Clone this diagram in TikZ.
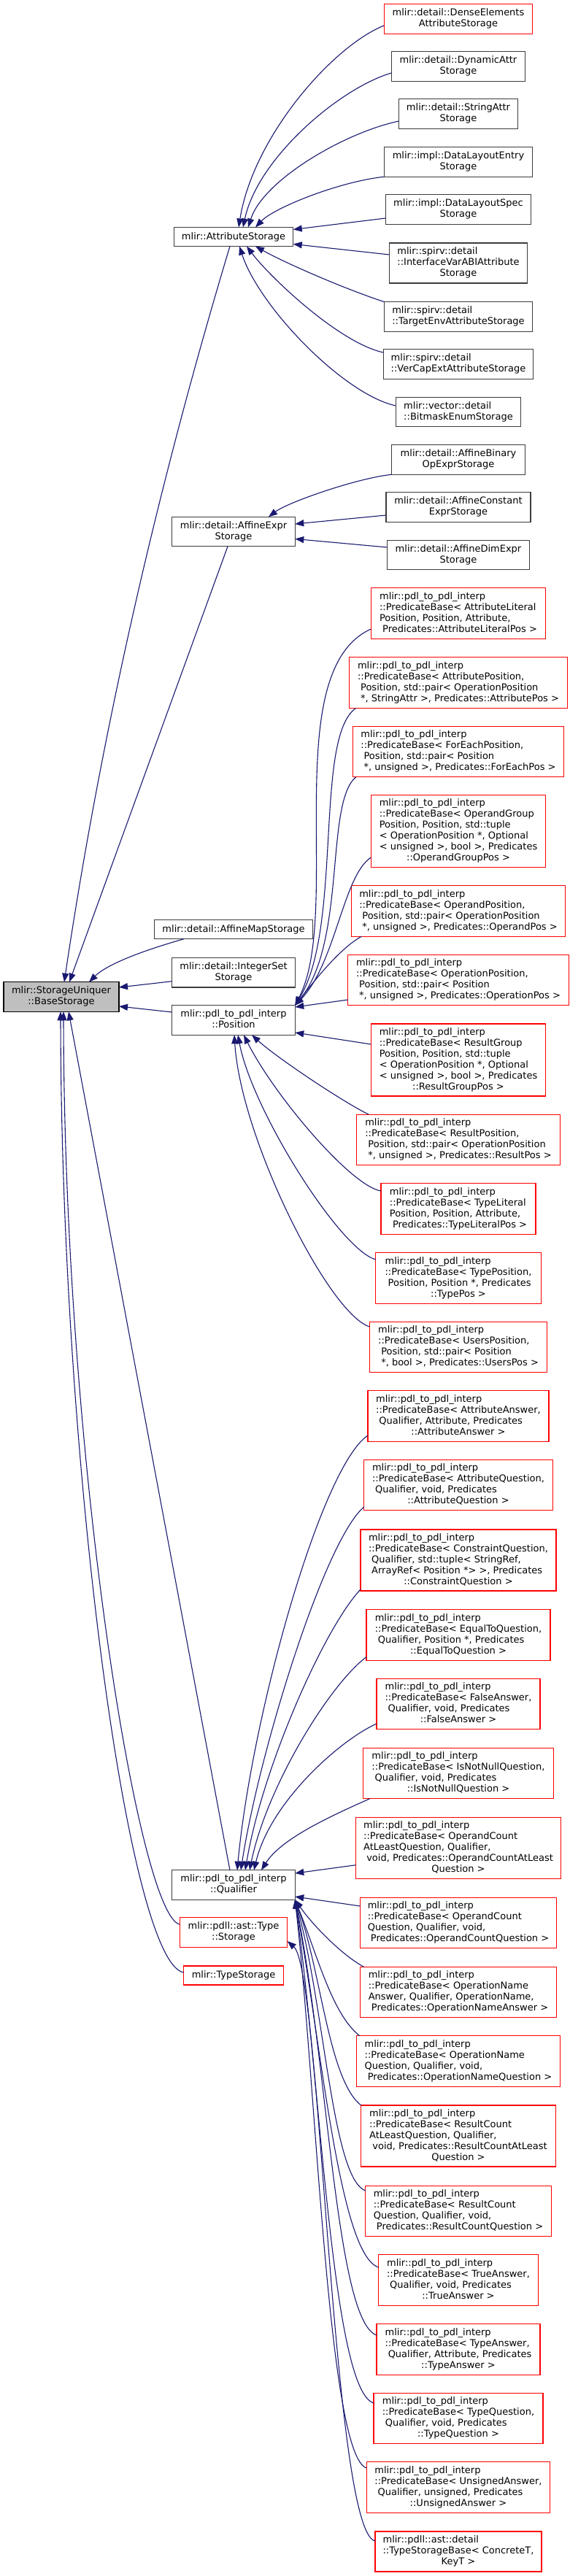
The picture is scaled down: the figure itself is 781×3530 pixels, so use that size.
\documentclass[tikz,border=0pt]{standalone}
\usepackage{fontspec}
\setmainfont{DejaVu Sans}
\usetikzlibrary{arrows.meta,calc}
\definecolor{edgeblue}{RGB}{25,25,112}
\definecolor{boxgrey}{RGB}{60,60,60}
\definecolor{boxred}{RGB}{255,0,0}
\definecolor{basegrey}{RGB}{191,191,191}
\newcommand\lbl[2]{\begin{tabular}{@{}l@{}}#1\\\multicolumn{1}{@{}c@{}}{#2}\end{tabular}}
\newcommand\ind{\hspace*{0.318em}}
\newcommand\pdlns{mlir::pdl\_to\_pdl\_interp}
\begin{document}
\begin{tikzpicture}[x=1pt,y=-1pt,
  box/.style={line width=1.1pt, fill=white, inner sep=0pt, outer sep=0pt, font=\fontsize{13}{15}\selectfont},
  bk/.style={box, draw=boxgrey},
  rd/.style={box, draw=boxred},
  gb/.style={box, draw=black, fill=basegrey},
  wd/.style={minimum width=#1pt},
  l1/.style={minimum height=26pt},
  l2/.style={minimum height=40.5pt},
  l3/.style={minimum height=55pt},
  l4/.style={minimum height=69.5pt},
  l5/.style={minimum height=84pt},
  l6/.style={minimum height=99pt},
  inh/.style={draw=edgeblue, line width=1.1pt, -{Triangle[length=12pt,width=9pt]}}]
\fill[white] (0,0) rectangle (781,3530);
\useasboundingbox (0,0) rectangle (781,3530);
% ---------- right column
\node[rd,wd=203.5,l2] (n1) at (628,26) {\lbl{mlir::detail::DenseElements}{AttributeStorage}};
\node[bk,wd=183.5,l2] (n2) at (628,91) {\lbl{mlir::detail::DynamicAttr}{Storage}};
\node[bk,wd=163,l2] (n3) at (628,156) {\lbl{mlir::detail::StringAttr}{Storage}};
\node[bk,wd=203.5,l2] (n4) at (628,222) {\lbl{mlir::impl::DataLayoutEntry}{Storage}};
\node[bk,wd=199.5,l2] (n5) at (628,287) {\lbl{mlir::impl::DataLayoutSpec}{Storage}};
\node[bk,wd=189,l3] (n6) at (628,360.5) {\lbl{mlir::spirv::detail\\::InterfaceVarABIAttribute}{Storage}};
\node[bk,wd=202.5,l2] (n7) at (628,434) {\lbl{mlir::spirv::detail}{::TargetEnvAttributeStorage}};
\node[bk,wd=205.5,l2] (n8) at (628,499) {\lbl{mlir::spirv::detail}{::VerCapExtAttributeStorage}};
\node[bk,wd=171.5,l2] (n9) at (628,564.5) {\lbl{mlir::vector::detail}{::BitmaskEnumStorage}};
\node[bk,wd=182.5,l2] (n10) at (628,630) {\lbl{mlir::detail::AffineBinary}{OpExprStorage}};
\node[bk,wd=198,l2] (n11) at (628,695) {\lbl{mlir::detail::AffineConstant}{ExprStorage}};
\node[bk,wd=195.5,l2] (n12) at (628,760.5) {\lbl{mlir::detail::AffineDimExpr}{Storage}};
\node[rd,wd=239.5,l4] (n13) at (628,840.5) {\lbl{\pdlns\\::PredicateBase< AttributeLiteral\\Position, Position, Attribute,}{\ind Predicates::AttributeLiteralPos >}};
\node[rd,wd=298.5,l4] (n14) at (628,935.5) {\lbl{\pdlns\\::PredicateBase< AttributePosition,\\\ind Position, std::pair< OperationPosition}{\ind *, StringAttr >, Predicates::AttributePos >}};
\node[rd,wd=289.5,l4] (n15) at (628,1030) {\lbl{\pdlns\\::PredicateBase< ForEachPosition,\\\ind Position, std::pair< Position}{\ind *, unsigned >, Predicates::ForEachPos >}};
\node[rd,wd=239.5,l6] (n16) at (628,1139) {\lbl{\pdlns\\::PredicateBase< OperandGroup\\Position, Position, std::tuple\\< OperationPosition *, Optional\\< unsigned >, bool >, Predicates}{::OperandGroupPos >}};
\node[rd,wd=293.5,l4] (n17) at (628,1248.5) {\lbl{\pdlns\\::PredicateBase< OperandPosition,\\\ind Position, std::pair< OperationPosition}{\ind *, unsigned >, Predicates::OperandPos >}};
\node[rd,wd=302.5,l4] (n18) at (628,1343) {\lbl{\pdlns\\::PredicateBase< OperationPosition,\\\ind Position, std::pair< Position}{\ind *, unsigned >, Predicates::OperationPos >}};
\node[rd,wd=239.5,l6] (n19) at (628,1452.5) {\lbl{\pdlns\\::PredicateBase< ResultGroup\\Position, Position, std::tuple\\< OperationPosition *, Optional\\< unsigned >, bool >, Predicates}{::ResultGroupPos >}};
\node[rd,wd=278.5,l4] (n20) at (628,1562) {\lbl{\pdlns\\::PredicateBase< ResultPosition,\\\ind Position, std::pair< OperationPosition}{\ind *, unsigned >, Predicates::ResultPos >}};
\node[rd,wd=212,l4] (n21) at (628,1656.5) {\lbl{\pdlns\\::PredicateBase< TypeLiteral\\Position, Position, Attribute,}{\ind Predicates::TypeLiteralPos >}};
\node[rd,wd=226.5,l4] (n22) at (628,1751.5) {\lbl{\pdlns\\::PredicateBase< TypePosition,\\\ind Position, Position *, Predicates}{::TypePos >}};
\node[rd,wd=243.5,l4] (n23) at (628,1846) {\lbl{\pdlns\\::PredicateBase< UsersPosition,\\\ind Position, std::pair< Position}{\ind *, bool >, Predicates::UsersPos >}};
\node[rd,wd=248,l4] (n24) at (628,1940.5) {\lbl{\pdlns\\::PredicateBase< AttributeAnswer,\\\ind Qualifier, Attribute, Predicates}{::AttributeAnswer >}};
\node[rd,wd=258.5,l4] (n25) at (628,2035) {\lbl{\pdlns\\::PredicateBase< AttributeQuestion,\\\ind Qualifier, void, Predicates}{::AttributeQuestion >}};
\node[rd,wd=268,l5] (n26) at (628,2138) {\lbl{\pdlns\\::PredicateBase< ConstraintQuestion,\\\ind Qualifier, std::tuple< StringRef,\\\ind ArrayRef< Position *> >, Predicates}{::ConstraintQuestion >}};
\node[rd,wd=252,l4] (n27) at (628,2240.5) {\lbl{\pdlns\\::PredicateBase< EqualToQuestion,\\\ind Qualifier, Position *, Predicates}{::EqualToQuestion >}};
\node[rd,wd=224,l4] (n28) at (628,2335) {\lbl{\pdlns\\::PredicateBase< FalseAnswer,\\\ind Qualifier, void, Predicates}{::FalseAnswer >}};
\node[rd,wd=261.5,l4] (n29) at (628,2430) {\lbl{\pdlns\\::PredicateBase< IsNotNullQuestion,\\\ind Qualifier, void, Predicates}{::IsNotNullQuestion >}};
\node[rd,wd=281,l5] (n30) at (628,2532.7) {\lbl{\pdlns\\::PredicateBase< OperandCount\\AtLeastQuestion, Qualifier,\\\ind void, Predicates::OperandCountAtLeast}{Question >}};
\node[rd,wd=269,l4] (n31) at (628,2635) {\lbl{\pdlns\\::PredicateBase< OperandCount\\Question, Qualifier, void,}{\ind Predicates::OperandCountQuestion >}};
\node[rd,wd=269,l4] (n32) at (628,2730) {\lbl{\pdlns\\::PredicateBase< OperationName\\Answer, Qualifier, OperationName,}{\ind Predicates::OperationNameAnswer >}};
\node[rd,wd=279.5,l4] (n33) at (628,2824.5) {\lbl{\pdlns\\::PredicateBase< OperationName\\Question, Qualifier, void,}{\ind Predicates::OperationNameQuestion >}};
\node[rd,wd=266.5,l5] (n34) at (628,2927) {\lbl{\pdlns\\::PredicateBase< ResultCount\\AtLeastQuestion, Qualifier,\\\ind void, Predicates::ResultCountAtLeast}{Question >}};
\node[rd,wd=254.5,l4] (n35) at (628,3030) {\lbl{\pdlns\\::PredicateBase< ResultCount\\Question, Qualifier, void,}{\ind Predicates::ResultCountQuestion >}};
\node[rd,wd=218.5,l4] (n36) at (628,3124.5) {\lbl{\pdlns\\::PredicateBase< TrueAnswer,\\\ind Qualifier, void, Predicates}{::TrueAnswer >}};
\node[rd,wd=224,l4] (n37) at (628,3219.5) {\lbl{\pdlns\\::PredicateBase< TypeAnswer,\\\ind Qualifier, Attribute, Predicates}{::TypeAnswer >}};
\node[rd,wd=232,l4] (n38) at (628,3314) {\lbl{\pdlns\\::PredicateBase< TypeQuestion,\\\ind Qualifier, void, Predicates}{::TypeQuestion >}};
\node[rd,wd=251.5,l4] (n39) at (628,3408.5) {\lbl{\pdlns\\::PredicateBase< UnsignedAnswer,\\\ind Qualifier, unsigned, Predicates}{::UnsignedAnswer >}};
\node[rd,wd=228,l3] (n40) at (628,3496.5) {\lbl{mlir::pdll::ast::detail\\::TypeStorageBase< ConcreteT,}{KeyT >}};
% ---------- middle column
\node[bk,wd=163.5,l1] (AS) at (320,324.5) {mlir::AttributeStorage};
\node[bk,wd=168.5,l2] (AE) at (320,728.5) {\lbl{mlir::detail::AffineExpr}{Storage}};
\node[bk,wd=216.5,l1] (AM) at (320,1273.7) {mlir::detail::AffineMapStorage};
\node[bk,wd=168.5,l2] (IS) at (320,1332.7) {\lbl{mlir::detail::IntegerSet}{Storage}};
\node[bk,wd=168.5,l2] (P) at (320,1398) {\lbl{\pdlns}{::Position}};
\node[bk,wd=168.5,l2] (Q) at (320,2583) {\lbl{\pdlns}{::Qualifier}};
\node[rd,wd=147.5,l2] (TS) at (320,2648) {\lbl{mlir::pdll::ast::Type}{::Storage}};
\node[rd,wd=136.5,l1] (TY) at (320,2707) {mlir::TypeStorage};
% ---------- root
\node[gb,wd=158,l2] (BS) at (84,1366) {\lbl{mlir::StorageUniquer}{::BaseStorage}};
% ---------- edges into AttributeStorage
\draw[inh] ($(n1.west)+(0,9)$) .. controls (456,63) and (347,187) .. ($(AS.north)+(7,0)$);
\draw[inh] ($(n2.west)+(0,9)$) .. controls (465,121) and (353,217) .. ($(AS.north)+(13,0)$);
\draw[inh] ($(n3.west)+(0,10)$) .. controls (474,181) and (361,246) .. ($(AS.north)+(20,0)$);
\draw[inh] (n4.south west) .. controls (464,249) and (375,285) .. ($(AS.north)+(30,0)$);
\draw[inh] ($(n5.west)+(0,12)$) -- ($(AS.east)+(0,-10)$);
\draw[inh] ($(n6.west)+(0,-11.5)$) -- ($(AS.east)+(0,10)$);
\draw[inh] (n7.north west) .. controls (470,395) and (390,360) .. ($(AS.south)+(30,0)$);
\draw[inh] ($(n8.west)+(0,-16)$) .. controls (465,470) and (370,380) .. ($(AS.south)+(18,0)$);
\draw[inh] ($(n9.west)+(0,-8.5)$) .. controls (470,540) and (355,420) .. ($(AS.south)+(8,0)$);
% ---------- edges into AffineExprStorage
\draw[inh] (n10.south west) .. controls (490,655) and (395,688) .. ($(AE.north)+(48,0)$);
\draw[inh] ($(n11.west)+(0,11)$) -- ($(AE.east)+(0,-10.5)$);
\draw[inh] ($(n12.west)+(0,-10.5)$) -- ($(AE.east)+(0,10)$);
% ---------- edges into Position
\draw[inh] ($(n13.west)+(0,21.5)$) .. controls (380,920) and (470,1250) .. (P.north east);
\draw[inh] ($(n14.south west)+(9,0)$) .. controls (430,1010) and (470,1270) .. (P.north east);
\draw[inh] ($(n15.south west)+(4.5,0)$) .. controls (445,1100) and (475,1290) .. (P.north east);
\draw[inh] ($(n16.west)+(0,36)$) .. controls (470,1200) and (460,1320) .. (P.north east);
\draw[inh] ($(n17.south west)+(14,0)$) .. controls (465,1300) and (430,1345) .. (P.north east);
\draw[inh] ($(n18.west)+(0,27)$) -- ($(P.east)+(0,-18)$);
\draw[inh] ($(n19.west)+(0,-21.5)$) -- ($(P.east)+(0,17)$);
\draw[inh] ($(n20.north west)+(16.5,0)$) .. controls (470,1510) and (380,1450) .. ($(P.south)+(25,0)$);
\draw[inh] ($(n21.west)+(0,-24.5)$) .. controls (480,1625) and (375,1500) .. ($(P.south)+(14,0)$);
\draw[inh] ($(n22.west)+(0,-25.5)$) .. controls (465,1712) and (345,1520) .. ($(P.south)+(6,0)$);
\draw[inh] ($(n23.west)+(0,-28)$) .. controls (450,1800) and (330,1560) .. ($(P.south)+(1,0)$);
% ---------- edges into Qualifier
\draw[inh] ($(n24.west)+(0,26.5)$) .. controls (440,2010) and (345,2350) .. ($(Q.north)+(5,0)$);
\draw[inh] ($(n25.west)+(0,30)$) .. controls (445,2110) and (355,2400) .. ($(Q.north)+(10,0)$);
\draw[inh] ($(n26.west)+(0,40)$) .. controls (445,2230) and (360,2420) .. ($(Q.north)+(16,0)$);
\draw[inh] ($(n27.west)+(0,30)$) .. controls (450,2310) and (365,2450) .. ($(Q.north)+(22,0)$);
\draw[inh] ($(n28.west)+(0,27)$) .. controls (465,2385) and (370,2470) .. ($(Q.north)+(28,0)$);
\draw[inh] ($(n29.south west)+(9.5,0)$) .. controls (450,2490) and (385,2520) .. ($(Q.north)+(38,0)$);
\draw[inh] ($(n30.west)+(0,23)$) -- ($(Q.east)+(0,-16)$);
\draw[inh] ($(n31.west)+(0,-23)$) -- ($(Q.east)+(0,16)$);
\draw[inh] ($(n32.north west)+(5,0)$) .. controls (470,2680) and (430,2640) .. (Q.south east);
\draw[inh] ($(n33.north west)+(4.5,0)$) .. controls (455,2760) and (435,2680) .. (Q.south east);
\draw[inh] (n34.north west) .. controls (450,2850) and (440,2700) .. (Q.south east);
\draw[inh] ($(n35.west)+(0,-28)$) .. controls (455,2985) and (445,2750) .. (Q.south east);
\draw[inh] ($(n36.west)+(0,-17.5)$) .. controls (465,3090) and (440,2800) .. (Q.south east);
\draw[inh] ($(n37.west)+(0,-19.5)$) .. controls (460,3180) and (450,2830) .. (Q.south east);
\draw[inh] ($(n38.west)+(0,-21)$) .. controls (455,3275) and (440,2860) .. (Q.south east);
\draw[inh] ($(n39.west)+(0,-26.5)$) .. controls (450,3365) and (435,2880) .. (Q.south east);
% ---------- TypeStorageBase into Type::Storage
\draw[inh] ($(n40.west)+(0,-14.5)$) .. controls (455,3470) and (440,2700) .. ($(TS.east)+(0,12)$);
% ---------- edges into BaseStorage
\draw[inh] ($(AS.south)+(-5,0)$) .. controls (214,673) and (138,1010) .. ($(BS.north)+(4,0)$);
\draw[inh] ($(AE.south)+(-8,0)$) -- ($(BS.north)+(11,0)$);
\draw[inh] ($(AM.south)+(-68,0)$) .. controls (215,1297) and (150,1318) .. ($(BS.north)+(38,0)$);
\draw[inh] ($(IS.west)+(0,12)$) -- ($(BS.east)+(0,-13)$);
\draw[inh] ($(P.west)+(0,-11)$) -- ($(BS.east)+(0,13)$);
\draw[inh] ($(Q.north)+(-5,0)$) -- ($(BS.south)+(10,0)$);
\draw[inh] ($(TS.west)+(0,-11)$) .. controls (190,2625) and (88,2000) .. ($(BS.south)+(3,0)$);
\draw[inh] ($(TY.west)+(0,-4)$) .. controls (175,2690) and (84,2000) .. ($(BS.south)+(-1,0)$);
\end{tikzpicture}
\end{document}
